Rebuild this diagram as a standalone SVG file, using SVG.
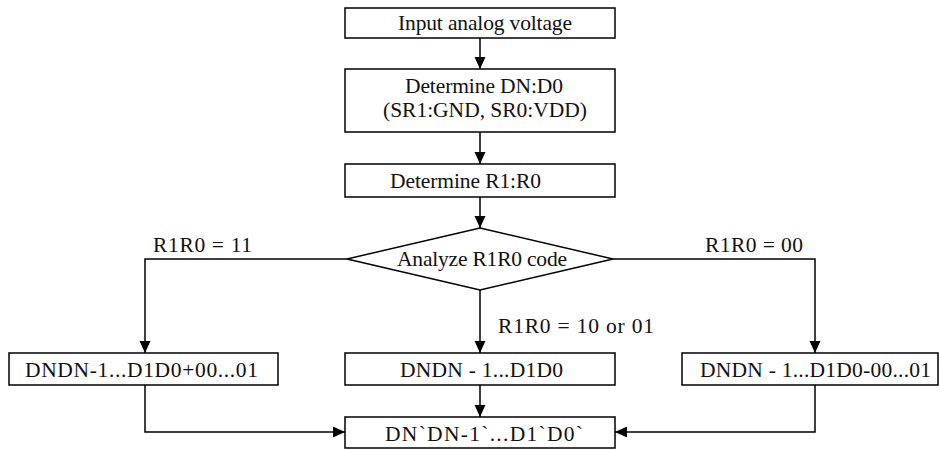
<svg xmlns="http://www.w3.org/2000/svg" width="940" height="450" viewBox="0 0 940 450">
  <defs>
    <marker id="arrow" markerWidth="12" markerHeight="16" refX="12" refY="8" orient="auto" markerUnits="userSpaceOnUse">
      <path d="M0,2.5 L12,8 L0,13.5 Z" fill="#000"/>
    </marker>
    <style>
      .box { fill: #fff; stroke: #000; stroke-width: 1.5; }
      .lbl { font-family: "Liberation Serif", "Times New Roman", serif; font-size: 21.5px; fill: #111; }
      .edge { fill: none; stroke: #000; stroke-width: 1.5; marker-end: url(#arrow); }
    </style>
  </defs>
  <rect width="940" height="450" fill="#fff"/>

  <g id="connectors">
    <path class="edge" d="M480,38 L480,69"/>
    <path class="edge" d="M480,132 L480,164"/>
    <path class="edge" d="M480,197 L480,228"/>
    <path class="edge" d="M347,259 L145,259 L145,353"/>
    <path class="edge" d="M480,290 L480,353"/>
    <path class="edge" d="M613,259 L815,259 L815,353"/>
    <path class="edge" d="M480,385 L480,417"/>
    <path class="edge" d="M145,385 L145,432 L345,432"/>
    <path class="edge" d="M815,385 L815,432 L615,432"/>
  </g>

  <g id="labels">
    <text class="lbl" x="153" y="252" textLength="99" lengthAdjust="spacing">R1R0 = 11</text>
    <text class="lbl" x="705" y="252" textLength="98" lengthAdjust="spacing">R1R0 = 00</text>
    <text class="lbl" x="498" y="333" textLength="156" lengthAdjust="spacing">R1R0 = 10 or 01</text>
  </g>

  <g id="input">
    <rect class="box" x="345" y="8" width="270" height="30"/>
    <text class="lbl" x="398" y="30" textLength="174" lengthAdjust="spacing">Input analog voltage</text>
  </g>

  <g id="determine-dn">
    <rect class="box" x="345" y="69" width="270" height="63"/>
    <text class="lbl" x="405" y="93" textLength="158" lengthAdjust="spacing">Determine DN:D0</text>
    <text class="lbl" x="383" y="117" textLength="204" lengthAdjust="spacing">(SR1:GND, SR0:VDD)</text>
  </g>

  <g id="determine-r">
    <rect class="box" x="345" y="164" width="270" height="33"/>
    <text class="lbl" x="390" y="188" textLength="151" lengthAdjust="spacing">Determine R1:R0</text>
  </g>

  <g id="analyze">
    <polygon class="box" points="480,228 613,259 480,290 347,259"/>
    <text class="lbl" x="397" y="266" textLength="170" lengthAdjust="spacing">Analyze R1R0 code</text>
  </g>

  <g id="add-one">
    <rect class="box" x="9" y="353" width="269" height="32"/>
    <text class="lbl" x="25" y="377" textLength="233" lengthAdjust="spacing">DNDN-1...D1D0+00...01</text>
  </g>

  <g id="keep">
    <rect class="box" x="345" y="353" width="270" height="32"/>
    <text class="lbl" x="400" y="377" textLength="163" lengthAdjust="spacing">DNDN - 1...D1D0</text>
  </g>

  <g id="subtract-one">
    <rect class="box" x="682" y="353" width="256" height="32"/>
    <text class="lbl" x="700" y="377" textLength="231" lengthAdjust="spacing">DNDN - 1...D1D0-00...01</text>
  </g>

  <g id="result">
    <rect class="box" x="345" y="417" width="270" height="31"/>
    <text class="lbl" x="385" y="441" textLength="198" lengthAdjust="spacing">DN`DN-1`...D1`D0`</text>
  </g>
</svg>
